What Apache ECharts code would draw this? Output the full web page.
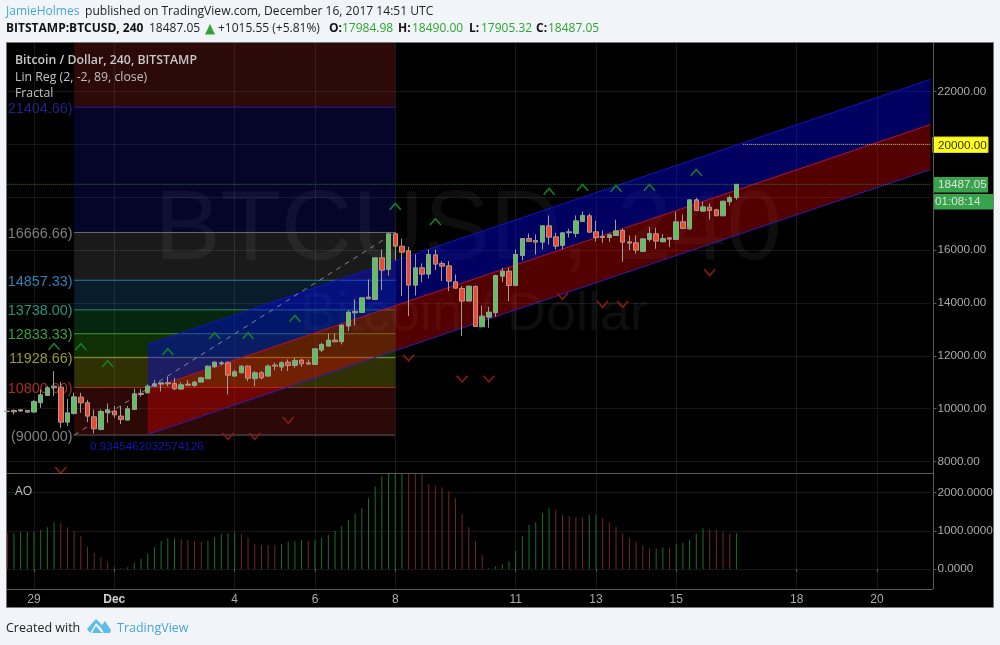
<!DOCTYPE html>
<html><head><meta charset="utf-8">
<style>html,body{margin:0;padding:0;background:#f1f5f9}#c{width:1000px;height:645px}</style>
<script src="https://cdn.jsdelivr.net/npm/echarts@6/dist/echarts.min.js"></script>
</head><body><div id="c"></div>
<script>
// [open, close, low, high]
const candles = [
[9906,9890,9870,9920],[9931,9881,9779,9969],[9906,9956,9890,9970],[9931,9868,9850,9945],[9868,10271,9860,10321],
[10221,10523,10032,10725],[10498,10788,10490,10851],[10788,10851,10473,11419],[10813,9489,9275,11003],[9489,9842,9338,10372],
[9817,10448,9779,10599],[10435,10221,9842,10599],[10221,9716,9489,10322],[9691,9237,9061,9969],[9212,9893,9187,9969],
[9855,9956,9464,10196],[9906,9767,9653,10095],[9716,9590,9414,10095],[9565,9994,9540,10095],[9969,10561,9960,10750],
[10574,10536,10448,10750],[10599,10851,10574,10914],[10851,10940,10840,11078],[10927,10977,10650,10985],[10977,10940,10851,11204],
[10952,10750,10700,11167],[10738,10902,10725,11003],[10927,10889,10851,11078],[10877,11003,10826,11040],[11003,11167,10990,11204],
[11129,11608,11120,11633],[11583,11759,11545,11797],[11696,11734,11633,11797],[11734,11267,10536,11797],[11230,11394,11204,11457],
[11356,11608,11340,11633],[11608,11154,11040,11633],[11130,11356,10852,11420],[11356,11167,11104,11420],[11230,11609,11215,11672],
[11647,11609,11457,11735],[11571,11735,11420,11798],[11760,11634,11420,11861],[11634,11823,11546,11924],[11836,11697,11583,11886],
[11735,11684,11670,11861],[11672,12264,11660,12275],[12214,12428,12138,12491],[12365,12592,12340,12844],[12592,12529,12517,12844],
[12529,13160,12428,13185],[13122,13652,12933,13727],[13626,13677,13147,14131],[13639,14194,13630,14200],[14219,14156,14140,14887],
[14131,15707,14120,15715],[15707,15240,14484,16022],[15266,16615,15039,16666],[16615,16148,15606,16666],[16148,15921,14257,16426],
[15972,14673,13500,16123],[14673,15329,14282,15833],[15329,15089,14786,15493],[15089,15833,14925,16022],[15820,15467,15240,16022],
[15493,15392,14824,15581],[15404,14824,14446,15581],[14799,14559,14534,15076],[14547,14068,12744,14635],[14068,14635,14060,14650],
[14622,13109,13100,14660],[13097,13500,13085,13904],[13462,13652,13059,13853],[13626,15039,13475,15064],[15013,15203,14787,15329],
[15203,14660,14068,15329],[14660,15833,14650,16022],[15795,16438,15606,16450],[16438,16325,16300,16628],[16363,16300,15833,16590],
[16300,16918,16022,16930],[16918,16489,16211,17309],[16501,16148,16022,16653],[16174,16653,16022,16678],[16653,16691,16476,16804],
[16628,17107,16489,17309],[17082,17309,17056,17460],[17296,16678,16653,17372],[16691,16476,16325,17119],[16514,16476,16274,16741],
[16476,16577,16312,16628],[16552,16728,16540,17145],[16741,16300,15556,16817],[16312,16262,15997,16552],[16274,15997,15871,16552],
[15947,16426,15935,16440],[16401,16628,16312,16880],[16615,16338,16048,16842],[16312,16438,16300,16602],[16464,16413,16111,16475],
[16401,17069,16390,17447],[17069,16817,16804,17346],[16804,17901,16754,17915],[17901,17498,17472,17977],[17472,17636,17460,17826],
[17624,17498,17157,17762],[17523,17296,17283,17561],[17296,17851,17285,17860],[17826,17985,17687,18065],[17984.98,18487.05,17905.32,18490]
];
const aoValues = [934,934,969,969,969,1022,1092,1223,1197,1092,996,865,585,410,306,192,61,17,44,157,262,393,568,734,803,803,777,760,734,707,734,830,908,934,952,917,812,655,629,629,629,655,707,725,760,742,760,812,891,996,1127,1284,1441,1590,1852,2157,2419,2650,2800,2800,2750,2650,2560,2227,2175,2140,2035,1852,1441,1092,725,367,26,70,122,201,472,865,1153,1223,1459,1590,1546,1415,1380,1354,1354,1415,1415,1328,1223,1109,934,830,716,620,541,541,568,541,655,681,760,917,1066,1039,1022,969,917,934];
const aoColors = 'r'+'ggggggg'+'rrrrrrrrrr'+'gggggggg'+'rrrr'+'ggggg'+'rrrrrr'+'gggg'+'r'+'gggggggggggggg'+'rrrrrrrrrrrrr'+'ggggggggg'+'rrrrr'+'gg'+'rrrrrrrr'+'gg'+'r'+'ggggg'+'rrrr'+'g';
const upFractals = [[7,12343],[11,12332],[15,11689],[24,12143],[31,12748],[36,12748],[43,13403],[58,17641],[64,17062],[81,18208],[86,18360],[91,18322],[96,18360],[103,18927]];
const downFractals = [[8,7677],[12,7400],[14,7400],[16,7400],[18,7400],[33,8964],[37,8964],[42,9570],[60,11927],[68,11132],[72,11132],[83,14262],[89,13959],[92,13959],[105,15159]];
const fibLevels = [21404.66,16666.66,14857.33,13738,12833.33,11928.66,10800,9000];
const fibLabels = ['21404.66)','16666.66)','14857.33)','13738.00)','12833.33)','11928.66)','10800.00)','(9000.00)'];
const channelEnds = [21,138];
const channelTop = [12426,22454];
const channelMid = [10724,20751];
const channelBottom = [9021,19048];
const priceTicks = [8000,10000,12000,14000,16000,18000,20000,22000];
const aoTicks = [0,1000,2000];
const tickIndexes = [4,16,34,46,58,76,88,100,118,130];
const tickLabels = ['29','Dec','4','6','8','11','13','15','18','20'];
const barCount = 139;
const categories = Array.from({length:barCount},(_,i)=>{const k=tickIndexes.indexOf(i);return k>=0?tickLabels[k]:'b'+i;});

const fibLine = ['#2a1a9a','#6e6e6e','#2c7ea6','#1f8f70','#3c9c3c','#98982e','#a83220','#5e5e5e'];
const fibText = ['#20208c','#7f7f7f','#2f80b8','#1f9a7c','#38a038','#98982e','#b02a20','#7f7f7f'];
const fibFill = ['rgba(30,30,255,.165)','rgba(255,255,255,.10)','rgba(40,140,220,.2)','rgba(30,190,80,.2)','rgba(60,190,20,.25)','rgba(190,190,20,.25)','rgba(190,40,30,.23)'];
const gridCol = 'rgba(255,255,255,.09)';
const axisGrey = '#5a5a5a', labelCol = '#aaaaaa';
const yMax = 23835, yMin = 7564, aoMax = 2513, aoMin = -524;
const fLeft = 10, fRight = 58;

function zone(top, bottom, fill){ return {top, bottom, fill}; }
const zones = [zone(yMax, fibLevels[0], 'rgba(255,60,40,.17)')];
fibFill.forEach((f,k)=>zones.push(zone(fibLevels[k], fibLevels[k+1], f)));

const isTick = (i)=>tickIndexes.indexOf(i)>=0;

function chevronSeries(data, color, dir){
  return {type:'custom',coordinateSystem:'cartesian2d',xAxisIndex:0,yAxisIndex:0,z:5,clip:true,silent:true,data,
    renderItem(p,api){
      const c=api.coord([api.value(0),api.value(1)]);
      return {type:'polyline',shape:{points:[[c[0]-5.5,c[1]+3*dir],[c[0],c[1]-3.2*dir],[c[0]+5.5,c[1]+3*dir]]},
        style:{stroke:color,lineWidth:1.6,fill:null}};
    }};
}
function band(top,bottom,fill){
  return {type:'custom',coordinateSystem:'cartesian2d',xAxisIndex:0,yAxisIndex:0,z:2,clip:true,silent:true,
    data:[[channelEnds[0],top[0]]],
    renderItem(p,api){
      const pts=[[channelEnds[0],top[0]],[channelEnds[1],top[1]],[channelEnds[1],bottom[1]],[channelEnds[0],bottom[0]]].map(q=>api.coord(q));
      return {type:'polygon',shape:{points:pts},style:{fill}};
    }};
}
function seg(points,color,width,type,z){
  return {type:'line',xAxisIndex:0,yAxisIndex:0,data:points,symbol:'none',silent:true,z:z||3,
    lineStyle:{color,width,type:type||'solid'}};
}
const T=(text,x,y,font,fill,extra)=>({type:'text',z:60,silent:true,style:Object.assign({text,x,y,font,fill,verticalAlign:'middle'},extra||{})});
const sans='"Open Sans"', arial='"Liberation Sans"';
const R=(x,y,w,h,fill,stroke)=>({type:'rect',z:50,silent:true,shape:{x,y,width:w,height:h},style:{fill,stroke:stroke||null,lineWidth:1}});
const L=(x1,y1,x2,y2,c)=>({type:'line',z:55,silent:true,shape:{x1,y1,x2,y2},style:{stroke:c,lineWidth:1}});
const green='#2ea52e';
const graphics=[
  {type:'rect',z:-10,silent:true,shape:{x:6.5,y:42.5,width:987,height:565},style:{fill:'#000',stroke:'#777',lineWidth:1}},
  {type:'text',z:-5,silent:true,style:{text:'BTCUSD, 240',x:468,y:232,font:'99px '+arial,fill:'rgba(255,255,255,.055)',align:'center',verticalAlign:'middle'}},
  {type:'text',z:-5,silent:true,style:{text:'Bitcoin / Dollar',x:474,y:315,font:'54px '+arial,fill:'rgba(255,255,255,.055)',align:'center',verticalAlign:'middle'}},
  L(7,473.5,933,473.5,axisGrey), L(7,589.5,933,589.5,axisGrey), L(933.5,43,933.5,589,axisGrey),
  T('Bitcoin / Dollar, 240, BITSTAMP',15,60,'600 12.3px '+sans,'#c8c8c8'),
  T('Lin Reg (2, -2, 89, close)',15,77,'12.3px '+sans,'#c0c0c0'),
  T('Fractal',15,93,'12.3px '+sans,'#c0c0c0'),
  T('AO',15,491,'12.3px '+sans,'#c0c0c0'),
  T('0.9345462032574126',90,447,'11.7px '+arial,'#1414b4'),
  R(933,137,55,15.5,'#ffff22','#d8d820'), T('20000.00',938,145.5,'11.7px '+arial,'#333300'),
  R(933,177,55,15.5,'#37a34a'), T('18487.05',938,185,'11.7px '+arial,'#e0e0e0'),
  R(933,194,60,15.5,'#37a34a'), T('01:08:14',935,202,'11.7px '+arial,'#e0e0e0'),
  T('JamieHolmes',6,12,'12px '+sans,'#46a5dc'),
  T('published on TradingView.com, December 16, 2017 14:51 UTC',85,12,'12.07px '+sans,'#222'),
  T('BITSTAMP:BTCUSD, 240',6,29,'700 12px '+sans,'#111'),
  T('18487.05',149,29,'12px '+sans,'#222'),
  {type:'polygon',z:60,silent:true,shape:{points:[[205,34.5],[210,24],[215,34.5]]},style:{fill:green}},
  T('+1015.55 (+5.81%)',218,29,'12px '+sans,'#222'),
  T('O:',329,29,'700 12px '+sans,'#111'), T('17984.98',342,29,'12px '+sans,green),
  T('H:',398,29,'700 12px '+sans,'#111'), T('18490.00',412,29,'12px '+sans,green),
  T('L:',469,29,'700 12px '+sans,'#111'), T('17905.32',481,29,'12px '+sans,green),
  T('C:',536,29,'700 12px '+sans,'#111'), T('18487.05',548,29,'12px '+sans,green),
  T('Created with',6,628,'12.5px '+sans,'#222'),
  {type:'polygon',z:60,silent:true,shape:{points:[[87,629],[96,619],[102,625],[105,621],[111,630],[110,633],[104,633],[101,628],[96,623],[92,630],[90,633]]},style:{fill:'#5dbde9'}},
  {type:'polygon',z:60,silent:true,shape:{points:[[92,633],[96,626],[101,632],[104,633]]},style:{fill:'#5dbde9'}},
  T('TradingView',117,628,'12.5px '+sans,'#46a5dc')
];

const option={
  animation:false,
  backgroundColor:'#f1f5f9',
  textStyle:{fontFamily:'Liberation Sans'},
  grid:[
    {left:7.24,top:43,width:923.2,height:430,containLabel:false},
    {left:7.24,top:473,width:923.2,height:116,containLabel:false}
  ],
  xAxis:[
    {type:'category',gridIndex:0,data:categories,boundaryGap:false,axisLine:{show:false},axisTick:{show:false},axisLabel:{show:false},
      splitLine:{show:true,interval:(i)=>isTick(i),lineStyle:{color:gridCol,width:1}}},
    {type:'category',gridIndex:1,data:categories,boundaryGap:false,axisLine:{show:false},
      axisTick:{show:true,interval:(i)=>isTick(i),length:3,lineStyle:{color:axisGrey},alignWithLabel:true},
      axisLabel:{show:true,interval:(i)=>isTick(i),color:labelCol,fontSize:12,margin:5,fontFamily:'Liberation Sans',
        formatter:(v)=>v==='Dec'?'{b|Dec}':v,rich:{b:{fontWeight:'bold',color:'#d0d0d0',fontSize:12,fontFamily:'Liberation Sans'}}},
      splitLine:{show:true,interval:(i)=>isTick(i),lineStyle:{color:gridCol,width:1}}}
  ],
  yAxis:[
    {type:'value',gridIndex:0,position:'right',offset:3,min:yMin,max:yMax,scale:true,
      axisLine:{show:false},axisTick:{show:true,length:3,customValues:priceTicks,lineStyle:{color:axisGrey}},
      axisLabel:{color:labelCol,fontSize:11.7,margin:4,fontFamily:'Liberation Sans',align:'left',customValues:priceTicks.filter(v=>v!==18000&&v!==20000),
        formatter:(v)=>Number(v).toFixed(2)},
      splitLine:{show:true,lineStyle:{color:gridCol,width:1}}},
    {type:'value',gridIndex:1,position:'right',offset:3,min:aoMin,max:aoMax,scale:true,
      axisLine:{show:false},axisTick:{show:true,length:3,customValues:aoTicks,lineStyle:{color:axisGrey}},
      axisLabel:{color:labelCol,fontSize:11.7,margin:4,fontFamily:'Liberation Sans',align:'left',customValues:aoTicks,
        formatter:(v)=>Number(v).toFixed(4)},
      splitLine:{show:true,lineStyle:{color:gridCol,width:1}}}
  ],
  graphic:{elements:graphics},
  series:[
    {type:'custom',coordinateSystem:'cartesian2d',xAxisIndex:0,yAxisIndex:0,z:1,clip:true,silent:true,
      data:zones.map(q=>[fLeft,q.top,fRight,q.bottom]),
      renderItem(p,api){
        const a=api.coord([fLeft,api.value(1)]),b=api.coord([fRight,api.value(3)]);
        return {type:'rect',shape:{x:a[0],y:a[1],width:b[0]-a[0],height:b[1]-a[1]},style:{fill:zones[p.dataIndex].fill}};
      }},
    {type:'custom',coordinateSystem:'cartesian2d',xAxisIndex:0,yAxisIndex:0,z:1.5,clip:true,silent:true,
      data:fibLevels.map(v=>[fLeft,v]),
      renderItem(p,api){
        const v=api.value(1),a=api.coord([fLeft,v]),b=api.coord([fRight,v]),k=p.dataIndex;
        return {type:'group',children:[
          {type:'line',shape:{x1:a[0],y1:a[1],x2:b[0],y2:b[1]},style:{stroke:fibLine[k],lineWidth:1}},
          {type:'text',style:{text:fibLabels[k],x:a[0]-1.5,y:a[1]+1.5,fill:fibText[k],font:'14.4px "Liberation Sans"',align:'right',verticalAlign:'middle'}}
        ]};
      }},
    band(channelTop,channelMid,'rgba(0,0,255,.38)'),
    band(channelMid,channelBottom,'rgba(255,0,0,.32)'),
    seg([[channelEnds[0],channelTop[0]],[channelEnds[1],channelTop[1]]],'#1212c8',1),
    seg([[channelEnds[0],channelMid[0]],[channelEnds[1],channelMid[1]]],'#b80f32',1),
    seg([[channelEnds[0],channelBottom[0]],[channelEnds[1],channelBottom[1]]],'#2a1cb8',1),
    seg([[fLeft,fibLevels[7]],[fRight,fibLevels[1]]],'rgba(190,190,190,.65)',1,[5,5]),
    seg([[0,18487.05],[barCount-1,18487.05]],'#2d7a33',1,'dotted'),
    seg([[110,20000],[barCount-1,20000]],'#c9c95a',1,'dotted'),
    {type:'candlestick',xAxisIndex:0,yAxisIndex:0,z:4,silent:true,barWidth:5,data:candles,
      itemStyle:{color:'#5cc25e',color0:'#f0482c',borderColor:'#9c9c9c',borderColor0:'#a89c96',borderWidth:1}},
    chevronSeries(upFractals,'#12802a',1),
    chevronSeries(downFractals,'#8c1a12',-1),
    {type:'bar',xAxisIndex:1,yAxisIndex:1,barWidth:1,silent:true,z:3,
      data:aoValues.map((v,i)=>({value:v,itemStyle:{color:aoColors[i]==='g'?'#187228':'#722828'}}))}
  ]
};
echarts.init(document.getElementById('c'),null,{renderer:'canvas'}).setOption(option);
</script></body></html>
